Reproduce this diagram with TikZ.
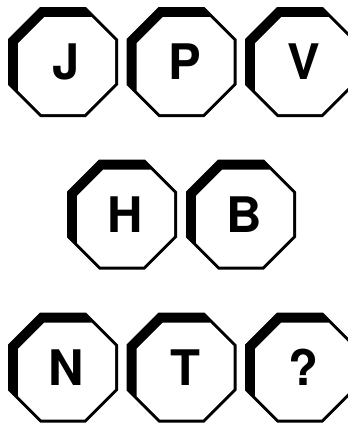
\documentclass[tikz,border=0pt]{standalone}
\usepackage{fontspec}
\newfontfamily\signfont{TeX Gyre Heros}
\usepackage{tikz}
\usetikzlibrary{positioning}

\begin{document}
\begin{tikzpicture}[
    x=1pt, y=-1pt,
    letter/.style={inner sep=0pt, font=\signfont\bfseries\fontsize{49}{49}\selectfont},
    sign/.pic={
        % outer octagon, thick band on top and left
        \fill[black] (55,-22.78) -- (22.78,-55) -- (-22.78,-55) -- (-55,-22.78)
            -- (-55,22.78) -- (-22.78,55) -- (22.78,55) -- (55,22.78) -- cycle;
        \fill[white] (52,-21.54) -- (28.54,-45) -- (-18.64,-45) -- (-45,-18.64)
            -- (-45,28.54) -- (-21.54,52) -- (21.54,52) -- (52,21.54) -- cycle;
        \node[letter] (-txt) at (3.5,0) {#1};
    }
]
\useasboundingbox (0,0) rectangle (348,424);
\clip (0,0) rectangle (348,424);

% Top row
\pic (j) at (63,62) {sign=J};
\pic (p) at (181.5,62) {sign=P};
\pic (v) at (300,62) {sign=V};

% Middle row
\pic (h) at (122,214.5) {sign=H};
\pic (b) at (241,214.5) {sign=B};

% Bottom row
\pic (n) at (63,367.5) {sign=N};
\pic (t) at (181.5,367.5) {sign=T};
\pic (q) at (300,367.5) {sign=?};

\end{tikzpicture}
\end{document}
